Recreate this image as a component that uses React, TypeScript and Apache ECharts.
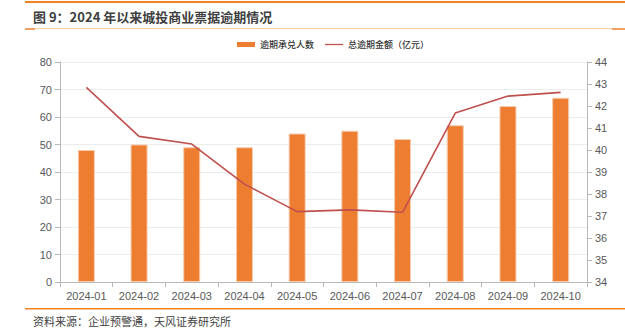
import React, { useEffect, useRef } from "react";
import * as echarts from "echarts";

const categories = ["2024-01", "2024-02", "2024-03", "2024-04", "2024-05", "2024-06", "2024-07", "2024-08", "2024-09", "2024-10"];
const overdueAcceptors = [48, 50, 49, 49, 54, 55, 52, 57, 64, 67];
const overdueAmount = [42.85, 40.62, 40.27, 38.45, 37.2, 37.28, 37.17, 41.68, 42.45, 42.62];
const barName = "逾期承兑人数";
const lineName = "总逾期金额（亿元）";
const titleText = "图 9：2024 年以来城投商业票据逾期情况";
const sourceText = "资料来源：企业预警通，天风证券研究所";

export default function App() {
  const ref = useRef<HTMLDivElement>(null);
  useEffect(() => {
    if (!ref.current) return;
    const chart = echarts.init(ref.current, null, { renderer: "svg" });
    const font = "'Noto Sans CJK SC', 'Noto Sans', sans-serif";
    const numFont = "'Liberation Sans', Arial, sans-serif";
    chart.setOption({
      animation: false,
      textStyle: { fontFamily: font },
      grid: { left: 60, right: 38, top: 62, bottom: 50 },
      legend: {
        top: 35,
        left: 232,
        itemGap: 11,
        textStyle: { fontSize: 9, color: "#333333", fontFamily: font, fontWeight: 500 },
        data: [
          { name: barName, icon: "rect", itemStyle: { color: "#ED7D31", borderWidth: 0 } },
          { name: lineName, icon: "path://M0,0h20v1.4h-20z", itemStyle: { color: "#C0504D", borderWidth: 0 } },
        ],
        itemWidth: 18,
        itemHeight: 5,
      },
      xAxis: {
        type: "category",
        data: categories,
        axisLine: { lineStyle: { color: "#b8b8b8" } },
        axisTick: { show: true, alignWithLabel: false, lineStyle: { color: "#b8b8b8" } },
        axisLabel: { color: "#595959", fontSize: 11, margin: 8, fontFamily: numFont },
      },
      yAxis: [
        {
          type: "value",
          min: 0,
          max: 80,
          interval: 10,
          axisLine: { show: true, lineStyle: { color: "#b8b8b8" } },
          axisTick: { show: true, lineStyle: { color: "#b8b8b8" } },
          axisLabel: { color: "#595959", fontSize: 11, margin: 8, fontFamily: numFont },
          splitLine: { lineStyle: { color: "#ececec" } },
        },
        {
          type: "value",
          min: 34,
          max: 44,
          interval: 1,
          axisLine: { show: true, lineStyle: { color: "#b8b8b8" } },
          axisTick: { show: true, lineStyle: { color: "#b8b8b8" } },
          axisLabel: { color: "#595959", fontSize: 11, margin: 8, fontFamily: numFont },
          splitLine: { show: false },
        },
      ],
      series: [
        {
          name: barName,
          type: "bar",
          data: overdueAcceptors,
          barWidth: 17,
          itemStyle: { color: "#ED7D31", borderColor: "#F8CBAD", borderWidth: 1 },
        },
        {
          name: lineName,
          type: "line",
          yAxisIndex: 1,
          data: overdueAmount,
          symbol: "none",
          lineStyle: { color: "#C0504D", width: 1.6 },
          itemStyle: { color: "#C0504D" },
        },
      ],
      graphic: [
        { type: "rect", shape: { x: 25, y: 1, width: 600, height: 2 }, style: { fill: "#F58220" } },
        {
          type: "text",
          style: { x: 33, y: 16, text: titleText, fill: "#404040", font: `bold 13px ${font}`, verticalAlign: "middle" },
        },
        { type: "rect", shape: { x: 25, y: 28, width: 600, height: 1 }, style: { fill: "#FBCB9C" } },
        { type: "rect", shape: { x: 25, y: 28, width: 10, height: 2 }, style: { fill: "#F0A060" } },
        { type: "rect", shape: { x: 612, y: 28, width: 13, height: 2 }, style: { fill: "#F0A060" } },
        { type: "rect", shape: { x: 25, y: 308, width: 600, height: 1.5 }, style: { fill: "#F58220" } },
        {
          type: "text",
          style: { x: 33, y: 321, text: sourceText, fill: "#404040", font: `11px ${font}`, verticalAlign: "middle" },
        },
      ],
    });
    return () => chart.dispose();
  }, []);
  return <div ref={ref} style={{ width: 625, height: 332, position: "absolute", left: 0, top: 0 }} />;
}
